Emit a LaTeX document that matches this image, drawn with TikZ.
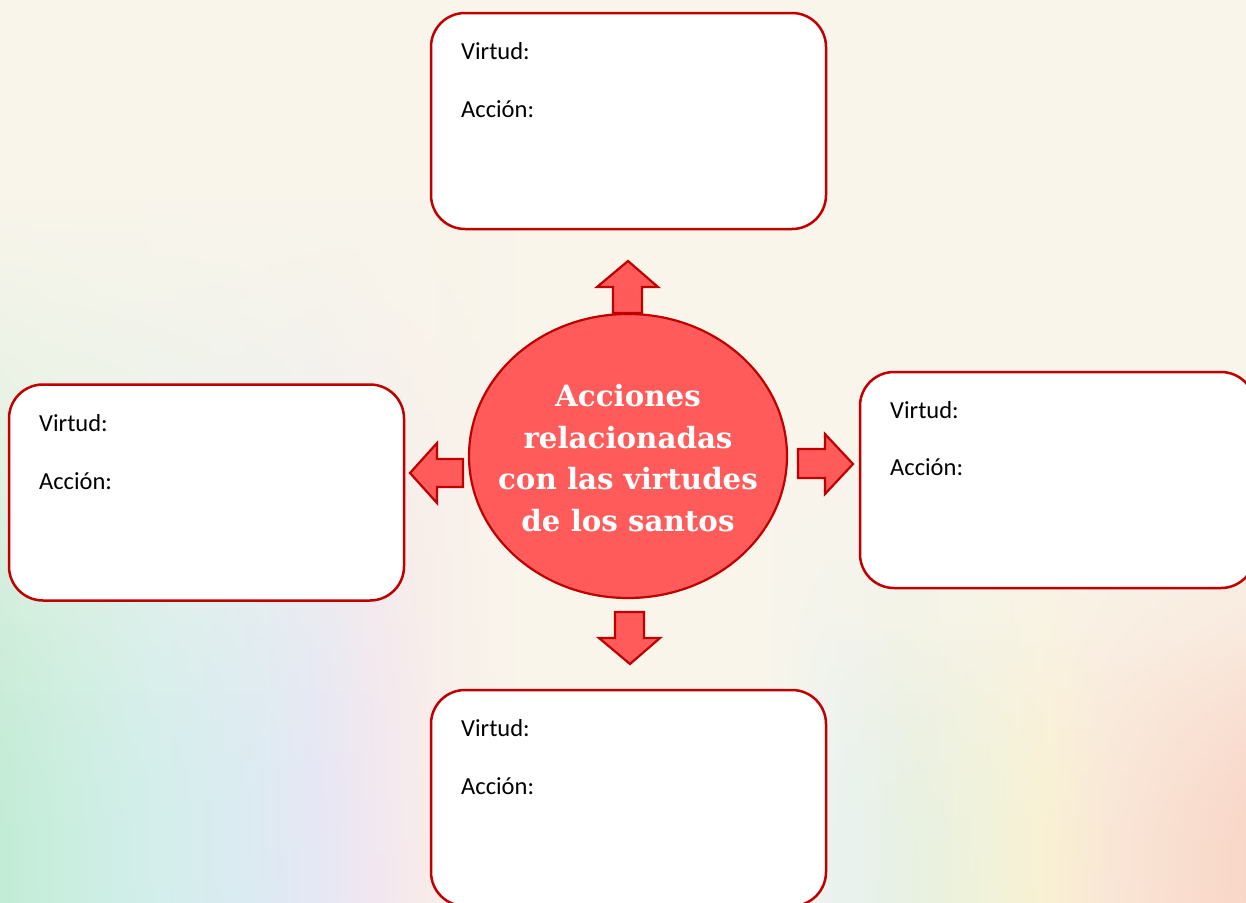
\documentclass[tikz,border=0pt]{standalone}
\usepackage{fontspec}
\setmainfont{Carlito}
\newfontfamily\titlefont{DejaVu Serif}
\usetikzlibrary{fadings,shapes.geometric}
\definecolor{bgcream}{HTML}{F9F5EB}
\definecolor{boxred}{HTML}{C00000}
\definecolor{hubfill}{HTML}{FF5B5B}
\definecolor{lA}{HTML}{C2ECD6}
\definecolor{lB}{HTML}{CAEEE0}
\definecolor{lC}{HTML}{D3EEEC}
\definecolor{lD}{HTML}{DCEBF3}
\definecolor{lE}{HTML}{E6E7F5}
\definecolor{lF}{HTML}{F2E7F0}
\definecolor{lG}{HTML}{F8ECEA}
\definecolor{rB}{HTML}{E9F2F0}
\definecolor{rC}{HTML}{E8F1E2}
\definecolor{rD}{HTML}{F1F2DA}
\definecolor{rE}{HTML}{F9F1D3}
\definecolor{rF}{HTML}{FAE6D6}
\definecolor{rG}{HTML}{FAD6C8}
\pgfdeclarehorizontalshading{leftrainbow}{100bp}{color(0bp)=(lA); color(25bp)=(lA); color(31.7bp)=(lB); color(40.4bp)=(lC); color(50bp)=(lD); color(56.7bp)=(lE); color(62bp)=(lF); color(67.3bp)=(lG); color(75bp)=(bgcream); color(100bp)=(bgcream)}
\pgfdeclarehorizontalshading{rightrainbow}{100bp}{color(0bp)=(bgcream); color(25bp)=(bgcream); color(32.2bp)=(rB); color(39.4bp)=(rC); color(47.6bp)=(rD); color(53.8bp)=(rE); color(61bp)=(rF); color(75bp)=(rG); color(100bp)=(rG)}
\tikzset{
  card/.style={draw=boxred, line width=2.5pt, fill=white, rounded corners=34pt,
    minimum width=395pt, minimum height=216pt, inner sep=0pt},
  lbl/.style={anchor=base west, inner sep=0pt, text=black,
    font=\fontsize{24.5}{29}\selectfont},
  blockarrow/.style={draw=boxred, line width=2.2pt, fill=hubfill, line join=miter},
  hub/.style={draw=boxred, line width=2.2pt, fill=hubfill, ellipse,
    minimum width=318pt, minimum height=284pt, inner sep=0pt},
  titletext/.style={align=center, inner sep=0pt, text=white,
    font=\titlefont\bfseries\fontsize{29.3}{41.5}\selectfont}
}
\begin{document}
\begin{tikzpicture}[x=1pt,y=-1pt]
\useasboundingbox (0,0) rectangle (1246,902);
\clip (0,0) rectangle (1246,902);
% background
\fill[bgcream] (0,0) rectangle (1246,902);
\shade[shading=leftrainbow, path fading=north] (0,200) rectangle (520,902);
\shade[shading=leftrainbow, path fading=north] (0,480) rectangle (500,902);
\shade[shading=rightrainbow, path fading=north] (760,480) rectangle (1246,902);
\shade[shading=rightrainbow, path fading=north] (780,640) rectangle (1246,902);
% boxes
\node[card] (top) at (628.5,121) {};
\node[card] (left) at (206.5,492.5) {};
\node[card] (right) at (1057.5,480) {};
\node[card] (bottom) at (628.5,798) {};
% labels
\node[lbl] (topv) at (461,59) {Virtud:};
\node[lbl] (topa) at (461,117) {Acción:};
\node[lbl] (leftv) at (39,431) {Virtud:};
\node[lbl] (lefta) at (39,489) {Acción:};
\node[lbl] (rightv) at (890,418) {Virtud:};
\node[lbl] (righta) at (890,475) {Acción:};
\node[lbl] (bottomv) at (461,736) {Virtud:};
\node[lbl] (bottoma) at (461,794) {Acción:};
% hub
\node[hub] (hub) at (628,456) {};
\node[titletext] (title) at (628,458) {Acciones\\relacionadas\\con las virtudes\\de los santos};
% block arrows
\draw[blockarrow] (613,313) -- (613,287) -- (597,287) -- (628,261) -- (658,287) -- (642,287) -- (642,313) -- cycle;
\draw[blockarrow] (463,459) -- (437,459) -- (437,443) -- (410,473) -- (437,503) -- (437,487) -- (463,487) -- cycle;
\draw[blockarrow] (798,449) -- (825,449) -- (825,434) -- (853,464) -- (825,494) -- (825,478) -- (798,478) -- cycle;
\draw[blockarrow] (615,612) -- (644,612) -- (644,638) -- (660,638) -- (630,664) -- (599,638) -- (615,638) -- cycle;
\end{tikzpicture}
\end{document}
